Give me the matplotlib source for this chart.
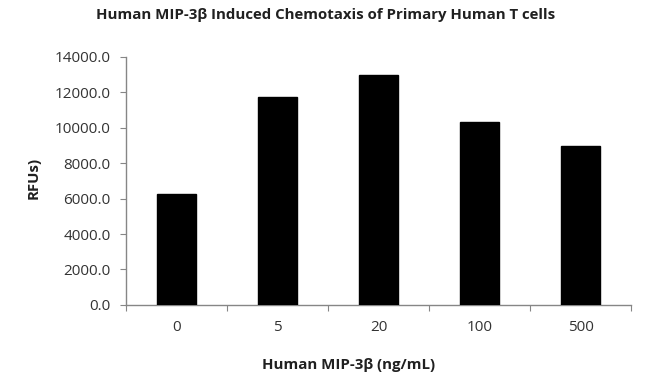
import matplotlib.pyplot as plt
import numpy as np

plt.rcParams['font.family'] = ['Open Sans', 'DejaVu Sans']

# Data
doses = ['0', '5', '20', '100', '500']
rfu = [6250, 11700, 12950, 10300, 8950]
y_ticks = [0, 2000, 4000, 6000, 8000, 10000, 12000, 14000]

fig = plt.figure(figsize=(6.5, 3.88), dpi=100)
ax = fig.add_axes([0.194, 0.214, 0.777, 0.64])

x = np.arange(len(doses))
ax.bar(x, rfu, width=0.39, color='black', edgecolor='black', zorder=3)

ax.set_xlim(-0.5, len(doses) - 0.5)
ax.set_ylim(0, 14000)
ax.set_yticks(y_ticks)
ax.set_yticklabels([f'{v:.1f}' for v in y_ticks], fontsize=11, color='#333333')

# Ticks at category boundaries, labels at centres
ax.set_xticks(np.arange(len(doses) + 1) - 0.5)
ax.set_xticklabels([])
ax.set_xticks(x, minor=True)
ax.set_xticklabels(doses, minor=True, fontsize=11, color='#333333')
ax.tick_params(axis='x', which='minor', length=0, pad=11)
ax.tick_params(axis='x', which='major', length=4, color='#868686')
ax.tick_params(axis='y', length=4, color='#868686', pad=7)

for side in ['top', 'right']:
    ax.spines[side].set_visible(False)
for side in ['left', 'bottom']:
    ax.spines[side].set_color('#868686')
    ax.spines[side].set_linewidth(1.0)

fig.text(0.501, 0.962, 'Human MIP-3\u03b2 Induced Chemotaxis of Primary Human T cells',
         ha='center', va='center', fontsize=10.8, fontweight='bold', color='#202020')
fig.text(0.537, 0.06, 'Human MIP-3\u03b2 (ng/mL)', ha='center', va='center',
         fontsize=10.8, fontweight='bold', color='#202020')
fig.text(0.051, 0.541, 'RFUs)', ha='center', va='center', rotation=90,
         fontsize=10.8, fontweight='bold', color='#202020')

plt.savefig('out.png', dpi=100)
